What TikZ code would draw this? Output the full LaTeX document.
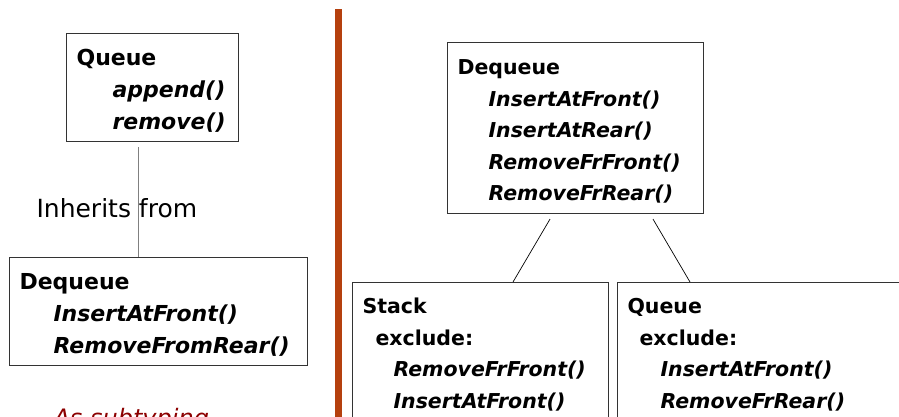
\documentclass[tikz,border=0pt]{standalone}
\usepackage{fontspec}
\setmainfont{DejaVu Sans}
\definecolor{barred}{RGB}{181,64,14}
\definecolor{subred}{RGB}{140,0,0}
\newcommand{\meth}[1]{\textit{#1}}
\newcommand{\topln}[1]{\rule{0pt}{#1}}

\begin{document}
\begin{tikzpicture}[x=1pt,y=-1pt]
  \tikzstyle{cls}=[draw=black!80,line width=1.1pt,anchor=north west,align=left,inner xsep=10pt,inner ysep=9pt]
  \tikzstyle{lcls}=[cls,font=\fontsize{22}{32}\selectfont\bfseries]
  \tikzstyle{rcls}=[cls,font=\fontsize{20.5}{31.5}\selectfont\bfseries]
  \useasboundingbox (0,0) rectangle (899,416);
  \fill[barred] (335,9) rectangle (342,420);
  \node[lcls,text width=152pt] (q1) at (66,33) {\topln{23pt}Queue\\ \hspace*{36pt}\meth{append()}\\ \hspace*{36pt}\meth{remove()}};
  \node[lcls,text width=278pt] (d1) at (9,257) {\topln{23pt}Dequeue\\ \hspace*{34pt}\meth{InsertAtFront()}\\ \hspace*{34pt}\meth{RemoveFromRear()}};
  \node[font=\fontsize{25}{30}\selectfont,anchor=base west] (inh) at (33,217) {Inherits from};
  \node[font=\fontsize{24}{28}\selectfont\itshape,text=subred,anchor=base west] (sub) at (50,426) {As subtyping};
  \node[rcls,text width=236pt,minimum height=171pt] (dq) at (447,42) {\topln{22pt}Dequeue\\ \hspace*{31pt}\meth{InsertAtFront()}\\ \hspace*{31pt}\meth{InsertAtRear()}\\ \hspace*{31pt}\meth{RemoveFrFront()}\\ \hspace*{31pt}\meth{RemoveFrRear()}};
  \node[rcls,text width=236pt] (st) at (352,282) {\topln{22pt}Stack\\ \hspace*{13pt}exclude:\\ \hspace*{31pt}\meth{RemoveFrFront()}\\ \hspace*{31pt}\meth{InsertAtFront()}\rule[-30pt]{0pt}{30pt}};
  \node[rcls,text width=320pt] (qu) at (617,282) {\topln{22pt}Queue\\ \hspace*{12pt}exclude:\\ \hspace*{33pt}\meth{InsertAtFront()}\\ \hspace*{33pt}\meth{RemoveFrRear()}\rule[-30pt]{0pt}{30pt}};
  \draw[gray,line width=1pt] ([xshift=72pt,yshift=-5pt]q1.south west) -- ([xshift=129pt]d1.north west);
  \draw[line width=0.7pt] ([xshift=103pt,yshift=-5pt]dq.south west) -- ([xshift=161pt]st.north west);
  \draw[line width=0.7pt] ([xshift=206pt,yshift=-5pt]dq.south west) -- ([xshift=73pt]qu.north west);
\end{tikzpicture}
\end{document}
